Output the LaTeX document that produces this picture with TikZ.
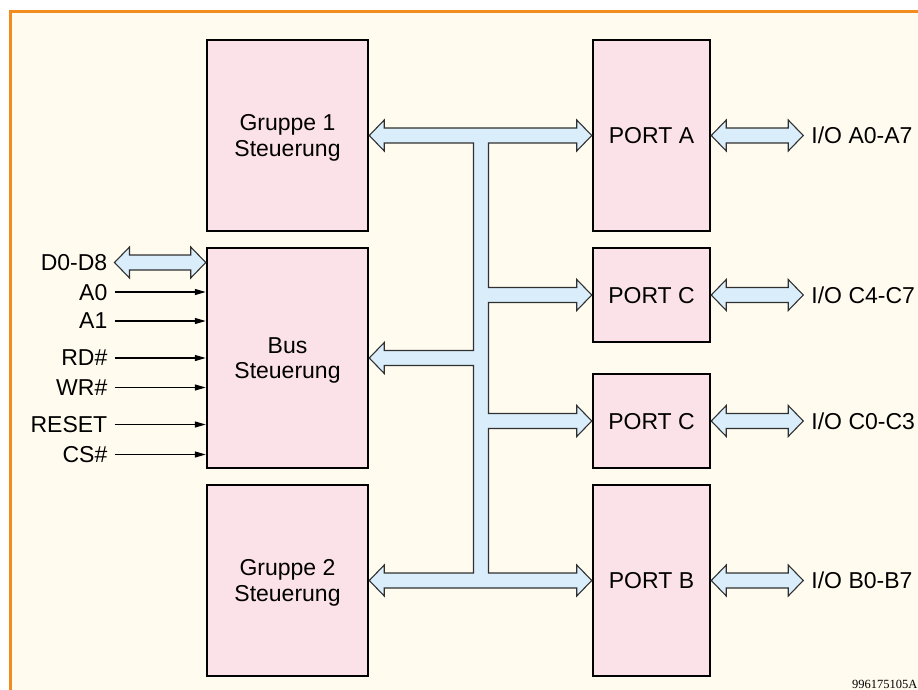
\documentclass[tikz,border=0pt]{standalone}
\usepackage{fontspec}
\setmainfont{Liberation Sans}
\newfontfamily\serialfont{Liberation Serif}
\usetikzlibrary{arrows.meta,calc}

\definecolor{paper}{HTML}{FFFCEF}
\definecolor{frameorange}{HTML}{F28C1E}
\definecolor{blockpink}{HTML}{FBE1E8}
\definecolor{busblue}{HTML}{D9EDFB}
\definecolor{busedge}{HTML}{303030}

\tikzset{
  blk/.style={draw=black, line width=2.5pt, fill=blockpink, align=center,
    text depth=0pt, inner sep=0pt, font=\fontsize{23}{25.5}\selectfont},
  lbl/.style={inner sep=0pt, text depth=0pt, font=\fontsize{23}{25.5}\selectfont},
  busfill/.style={draw=busedge, line width=1.1pt, fill=busblue, line join=miter},
  sig/.style={line width=1.3pt, -{Triangle[length=11pt,width=6pt]}},
}

% wide hollow double-headed bus arrow between two points at the same height
\newcommand\dblarrow[2]{%
  \path[busfill] let \p1=#1, \p2=#2 in
    (\x1,\y1) -- (\x1+15pt,\y1+15.5pt) -- (\x1+15pt,\y1+7.5pt)
    -- (\x2-15pt,\y1+7.5pt) -- (\x2-15pt,\y1+15.5pt) -- (\x2,\y1)
    -- (\x2-15pt,\y1-15.5pt) -- (\x2-15pt,\y1-7.5pt)
    -- (\x1+15pt,\y1-7.5pt) -- (\x1+15pt,\y1-15.5pt) -- cycle;}

\begin{document}
\begin{tikzpicture}[x=1pt,y=-1pt]
  \useasboundingbox (0,0) rectangle (918,690);
  \clip (0,0) rectangle (918,690);
  \fill[white] (0,0) rectangle (918,690);
  \draw[frameorange, line width=3pt, fill=paper] (10.8,11.7) rectangle (940,710);

  % function blocks
  \node[blk, minimum width=161, minimum height=191] (g1)  at (287.5,135.5) {Gruppe 1\\Steuerung};
  \node[blk, minimum width=161, minimum height=220] (bus) at (287.5,358)   {Bus\\Steuerung};
  \node[blk, minimum width=161, minimum height=191] (g2)  at (287.5,580.5) {Gruppe 2\\Steuerung};
  \node[blk, minimum width=117, minimum height=191] (pa)  at (651.5,135.5) {PORT A};
  \node[blk, minimum width=117, minimum height=94]  (pc1) at (651.5,295)   {PORT C};
  \node[blk, minimum width=117, minimum height=94]  (pc2) at (651.5,421)   {PORT C};
  \node[blk, minimum width=117, minimum height=191] (pb)  at (651.5,580.5) {PORT B};

  % internal data bus: spine with branches to every block
  \coordinate (spine) at (481,0);
  \path[busfill] let \p0=(spine), \p1=(g1.east), \p2=(pa.west), \p3=(pc1.west),
      \p4=(bus.east), \p5=(pc2.west), \p6=(g2.east), \p7=(pb.west) in
    (\x1,\y1) -- (\x1+15pt,\y1+15.5pt) -- (\x1+15pt,\y1+7.5pt)
    -- (\x2-15pt,\y1+7.5pt) -- (\x2-15pt,\y1+15.5pt) -- (\x2,\y2)
    -- (\x2-15pt,\y1-15.5pt) -- (\x2-15pt,\y1-7.5pt) -- (\x0+7.5pt,\y1-7.5pt)
    -- (\x0+7.5pt,\y3+7.5pt) -- (\x3-15pt,\y3+7.5pt) -- (\x3-15pt,\y3+15.5pt)
    -- (\x3,\y3) -- (\x3-15pt,\y3-15.5pt) -- (\x3-15pt,\y3-7.5pt) -- (\x0+7.5pt,\y3-7.5pt)
    -- (\x0+7.5pt,\y5+7.5pt) -- (\x5-15pt,\y5+7.5pt) -- (\x5-15pt,\y5+15.5pt)
    -- (\x5,\y5) -- (\x5-15pt,\y5-15.5pt) -- (\x5-15pt,\y5-7.5pt) -- (\x0+7.5pt,\y5-7.5pt)
    -- (\x0+7.5pt,\y7+7.5pt) -- (\x7-15pt,\y7+7.5pt) -- (\x7-15pt,\y7+15.5pt)
    -- (\x7,\y7) -- (\x7-15pt,\y7-15.5pt) -- (\x7-15pt,\y7-7.5pt)
    -- (\x6+15pt,\y7-7.5pt) -- (\x6+15pt,\y7-15.5pt) -- (\x6,\y6)
    -- (\x6+15pt,\y7+15.5pt) -- (\x6+15pt,\y7+7.5pt) -- (\x0-7.5pt,\y7+7.5pt)
    -- (\x0-7.5pt,\y4-7.5pt) -- (\x4+15pt,\y4-7.5pt) -- (\x4+15pt,\y4-15.5pt)
    -- (\x4,\y4) -- (\x4+15pt,\y4+15.5pt) -- (\x4+15pt,\y4+7.5pt) -- (\x0-7.5pt,\y4+7.5pt)
    -- (\x0-7.5pt,\y1-7.5pt) -- (\x1+15pt,\y1-7.5pt) -- (\x1+15pt,\y1-15.5pt) -- cycle;

  % port I/O lines
  \coordinate (ioa)  at ([xshift=92pt]pa.east);
  \coordinate (ioc1) at ([xshift=92pt]pc1.east);
  \coordinate (ioc2) at ([xshift=92pt]pc2.east);
  \coordinate (iob)  at ([xshift=92pt]pb.east);
  \dblarrow{(pa.east)}{(ioa)}
  \dblarrow{(pc1.east)}{(ioc1)}
  \dblarrow{(pc2.east)}{(ioc2)}
  \dblarrow{(pb.east)}{(iob)}
  \node[lbl, anchor=west] (la)  at ([xshift=8pt]ioa)  {I/O A0-A7};
  \node[lbl, anchor=west] (lc1) at ([xshift=8pt]ioc1) {I/O C4-C7};
  \node[lbl, anchor=west] (lc2) at ([xshift=8pt]ioc2) {I/O C0-C3};
  \node[lbl, anchor=west] (lb)  at ([xshift=8pt]iob)  {I/O B0-B7};

  % processor side signals
  \node[lbl, anchor=east] (ld)   at (107.5,262.5) {D0-D8};
  \node[lbl, anchor=east] (la0)  at (107.5,292)   {A0};
  \node[lbl, anchor=east] (la1)  at (107.5,321)   {A1};
  \node[lbl, anchor=east] (lrd)  at (107.5,358)   {RD\#};
  \node[lbl, anchor=east] (lwr)  at (107.5,387.5) {WR\#};
  \node[lbl, anchor=east] (lrst) at (107.5,424.5) {RESET};
  \node[lbl, anchor=east] (lcs)  at (107.5,454.5) {CS\#};
  \dblarrow{([xshift=7pt]ld.east)}{(ld.east -| bus.west)}
  \foreach \s in {la0,la1,lrd,lwr,lrst,lcs}
    \draw[sig] ([xshift=7pt]\s.east) -- (\s.east -| bus.west);

  \node[anchor=south east, inner sep=0pt, font=\serialfont\fontsize{12.5}{14}\selectfont]
    (code) at (917.5,689) {996175105A};
\end{tikzpicture}
\end{document}
